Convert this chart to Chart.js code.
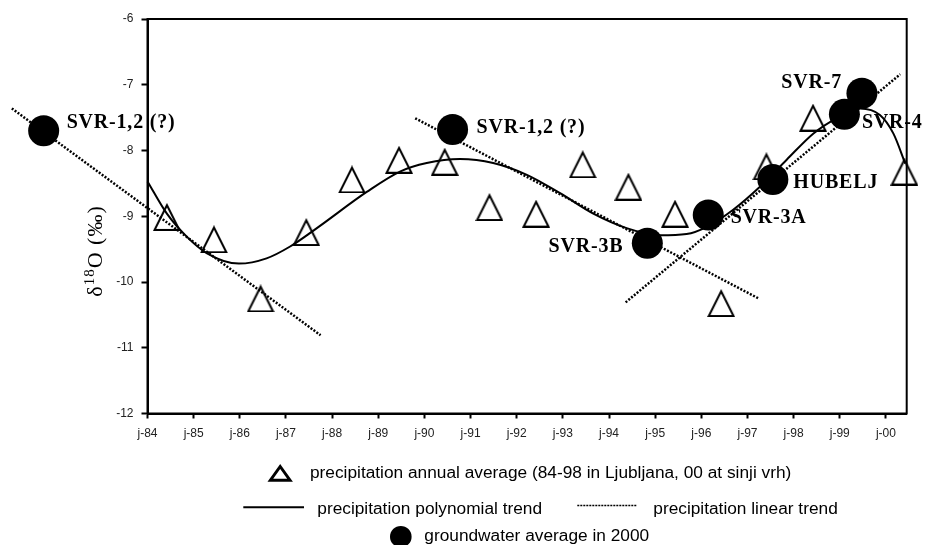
<!DOCTYPE html>
<html><head><meta charset="utf-8">
<script src="https://cdn.jsdelivr.net/npm/chart.js@4/dist/chart.umd.min.js"></script>
<style>html,body{margin:0;padding:0;background:#fff;}#wrap{width:926px;height:545px;}</style>
</head><body><div id="wrap"><canvas id="c" width="926" height="545"></canvas></div>
<script>
// ---- data ----
const yearTicks = [1984,1985,1986,1987,1988,1989,1990,1991,1992,1993,1994,1995,1996,1997,1998,1999,2000];
const tickLabels = ['j-84','j-85','j-86','j-87','j-88','j-89','j-90','j-91','j-92','j-93','j-94','j-95','j-96','j-97','j-98','j-99','j-00'];
const yTicks = [-12,-11,-10,-9,-8,-7,-6];

const precipYears  = [1984.42,1985.44,1986.45,1987.44,1988.43,1989.45,1990.44,1991.41,1992.42,1993.43,1994.42,1995.43,1996.43,1997.41,1998.42,2000.40];
const precipValues = [-9.01,-9.35,-10.25,-9.24,-8.44,-8.14,-8.17,-8.86,-8.96,-8.21,-8.55,-8.96,-10.32,-8.24,-7.50,-8.32];

const polyYears  = [1984.0,1984.42,1984.85,1985.28,1985.98,1986.58,1987.09,1987.67,1988.75,1989.47,1990.05,1990.77,1991.49,1992.22,1992.94,1993.66,1994.38,1995.10,1995.68,1996.12,1996.69,1997.27,1997.85,1998.43,1998.93,1999.44,1999.87,2000.16,2000.42];
const polyValues = [-8.47,-8.96,-9.31,-9.56,-9.72,-9.64,-9.46,-9.18,-8.63,-8.32,-8.19,-8.13,-8.19,-8.37,-8.65,-8.96,-9.18,-9.29,-9.27,-9.16,-8.90,-8.55,-8.14,-7.74,-7.51,-7.36,-7.46,-7.74,-8.20];

const linA_years = [1981.06,1987.75];  const linA_values = [-7.36,-10.81];
const linB_years = [1989.80,1997.24];  const linB_values = [-7.51,-10.25];
const linC_years = [1994.36,2000.31];  const linC_values = [-10.31,-6.84];

const gwNames  = ['SVR-1,2 (?)','SVR-3B','SVR-3A','HUBELJ','SVR-4','SVR-7','SVR-1,2 (?)'];
const gwYears  = [1990.61,1994.83,1996.15,1997.55,1999.10,1999.48,1981.75];
const gwValues = [-7.68,-9.41,-8.98,-8.44,-7.45,-7.13,-7.70];

const legendTexts = [
  'precipitation annual average (84-98 in Ljubljana, 00 at sinji vrh)',
  'precipitation polynomial trend',
  'precipitation linear trend',
  'groundwater average in 2000'
];

// ---- styles (label offsets in pixels) ----
const gwLabelStyle = [
  {dx:24, dy:3.6, align:'left'},
  {dx:-24, dy:8.7, align:'right'},
  {dx:22.4, dy:8.3, align:'left'},
  {dx:20.5, dy:8.6, align:'left'},
  {dx:17.5, dy:14, align:'left'},
  {dx:-20, dy:-5, align:'right'},
  {dx:23, dy:-3, align:'left'}
];

const zip = (xs, ys) => xs.map((x,i)=>({x:x, y:ys[i]}));

function triCanvas(w, h, lw){
  const c = document.createElement('canvas');
  c.width = w; c.height = h;
  const g = c.getContext('2d');
  g.lineWidth = lw; g.strokeStyle = '#000'; g.lineJoin = 'miter';
  g.beginPath();
  g.moveTo(w/2, lw*1.1);
  g.lineTo(w - lw*0.8, h - lw/2);
  g.lineTo(lw*0.8, h - lw/2);
  g.closePath();
  g.stroke();
  return c;
}
const triMarker = triCanvas(28, 28, 2);

const dotted = {borderColor:'#000', borderWidth:2.5, borderDash:[2,1.6], pointRadius:0, showLine:true, fill:false, tension:0, clip:false, order:1};

const labelsPlugin = {
  id:'extras',
  afterDatasetsDraw(chart){
    const ctx = chart.ctx, a = chart.chartArea;
    // groundwater points lying outside the plot frame (library skips them)
    const meta = chart.getDatasetMeta(0);
    const wide = {left:-10000, top:-10000, right:10000, bottom:10000};
    meta.data.forEach(el=>{
      if (el.x < a.left || el.x > a.right || el.y < a.top || el.y > a.bottom) el.draw(ctx, wide);
    });
    ctx.save();
    ctx.strokeStyle = '#000'; ctx.lineWidth = 2;
    ctx.strokeRect(a.left, a.top, a.right - a.left, a.bottom - a.top);
    const xs = chart.scales.x, ys = chart.scales.y;
    ctx.fillStyle = '#000';
    ctx.font = 'bold 20px "Liberation Serif", "Times New Roman", serif';
    ctx.letterSpacing = '0.8px';
    ctx.textBaseline = 'alphabetic';
    gwNames.forEach((n,i)=>{
      const s = gwLabelStyle[i];
      const px = xs.getPixelForValue(gwYears[i]) + s.dx;
      const py = ys.getPixelForValue(gwValues[i]) + s.dy;
      ctx.textAlign = s.align;
      ctx.fillText(n, px, py);
    });
    ctx.restore();
  },
  afterDraw(chart){
    const ctx = chart.ctx;
    ctx.save();
    ctx.translate(102, 251);
    ctx.rotate(-Math.PI/2);
    ctx.fillStyle = '#000';
    ctx.textBaseline = 'alphabetic';
    ctx.textAlign = 'left';
    const big = '22px "Liberation Serif", "Times New Roman", serif';
    const small = '15px "Liberation Serif", "Times New Roman", serif';
    ctx.letterSpacing = '1px';
    ctx.font = big; const w1 = ctx.measureText('δ').width;
    ctx.font = small; const w2 = ctx.measureText('18').width;
    ctx.font = big; const w3 = ctx.measureText('O (‰)').width;
    let x = -(w1 + w2 + w3)/2;
    ctx.font = big; ctx.fillText('δ', x, 0); x += w1;
    ctx.font = small; ctx.fillText('18', x, -8); x += w2;
    ctx.font = big; ctx.fillText('O (‰)', x, 0);
    ctx.restore();

    ctx.save();
    ctx.fillStyle = '#000'; ctx.strokeStyle = '#000';
    ctx.font = '17.3px "Liberation Sans", Arial, sans-serif';
    ctx.textBaseline = 'middle'; ctx.textAlign = 'left';
    ctx.lineWidth = 3; ctx.lineJoin = 'miter';
    ctx.beginPath();
    ctx.moveTo(280.2, 466.5); ctx.lineTo(290, 480.2); ctx.lineTo(270.4, 480.2); ctx.closePath(); ctx.stroke();
    ctx.fillText(legendTexts[0], 310, 473.5);
    ctx.lineWidth = 2;
    ctx.beginPath(); ctx.moveTo(243.3, 507.3); ctx.lineTo(304, 507.3); ctx.stroke();
    ctx.fillText(legendTexts[1], 317.3, 509);
    ctx.lineWidth = 1.5; ctx.setLineDash([2,1]);
    ctx.beginPath(); ctx.moveTo(577.3, 505.5); ctx.lineTo(636.7, 505.5); ctx.stroke();
    ctx.setLineDash([]);
    ctx.fillText(legendTexts[2], 653.3, 509);
    ctx.beginPath(); ctx.arc(400.8, 536.7, 10.8, 0, Math.PI*2); ctx.fill();
    ctx.fillText(legendTexts[3], 424.3, 536.5);
    ctx.restore();
  }
};

Chart.defaults.font.family = '"Liberation Sans", Arial, sans-serif';

new Chart(document.getElementById('c'), {
  type:'line',
  data:{
    datasets:[
      {label:'groundwater average in 2000', data:zip(gwYears, gwValues), showLine:false,
       pointStyle:'circle', pointRadius:15.5, pointHoverRadius:15.5, pointBackgroundColor:'#000', pointBorderWidth:0, borderColor:'#000', clip:false, order:0},
      Object.assign({label:'precipitation linear trend'}, dotted, {data:zip(linA_years, linA_values)}),
      Object.assign({label:'precipitation linear trend B'}, dotted, {data:zip(linB_years, linB_values)}),
      Object.assign({label:'precipitation linear trend C'}, dotted, {data:zip(linC_years, linC_values)}),
      {label:'precipitation polynomial trend', data:zip(polyYears, polyValues), borderColor:'#000', borderWidth:2,
       pointRadius:0, tension:0.4, cubicInterpolationMode:'monotone', fill:false, clip:false, order:1},
      {label:'precipitation annual average', data:zip(precipYears, precipValues), showLine:false,
       pointStyle:triMarker, pointRadius:14, pointHoverRadius:14, borderColor:'#000', clip:false, order:2}
    ]
  },
  options:{
    responsive:false, animation:false, events:[],
    layout:{padding:{left:0, top:19, right:19.3, bottom:101.5}},
    plugins:{legend:{display:false}, tooltip:{enabled:false}, title:{display:false}},
    scales:{
      x:{type:'linear', min:1984, max:2000.45,
        afterFit(s){ s.height = 30; },
        afterBuildTicks(s){ s.ticks = yearTicks.map(v=>({value:v})); },
        ticks:{autoSkip:false, maxRotation:0, color:'#222', font:{size:12}, padding:8,
          callback:(v)=>{ const i = yearTicks.indexOf(v); return i>=0 ? tickLabels[i] : ''; }},
        grid:{drawOnChartArea:false, drawTicks:true, tickLength:5, tickWidth:2, tickColor:'#000'},
        border:{display:true, color:'#000', width:2}
      },
      y:{type:'linear', min:-12, max:-6,
        afterFit(s){ s.width = 147.5; },
        afterBuildTicks(s){ s.ticks = yTicks.map(v=>({value:v})); },
        ticks:{color:'#222', font:{size:12}, padding:8},
        grid:{drawOnChartArea:false, drawTicks:true, tickLength:6, tickWidth:2, tickColor:'#000'},
        border:{display:true, color:'#000', width:2}
      }
    }
  },
  plugins:[labelsPlugin]
});
</script></body></html>
